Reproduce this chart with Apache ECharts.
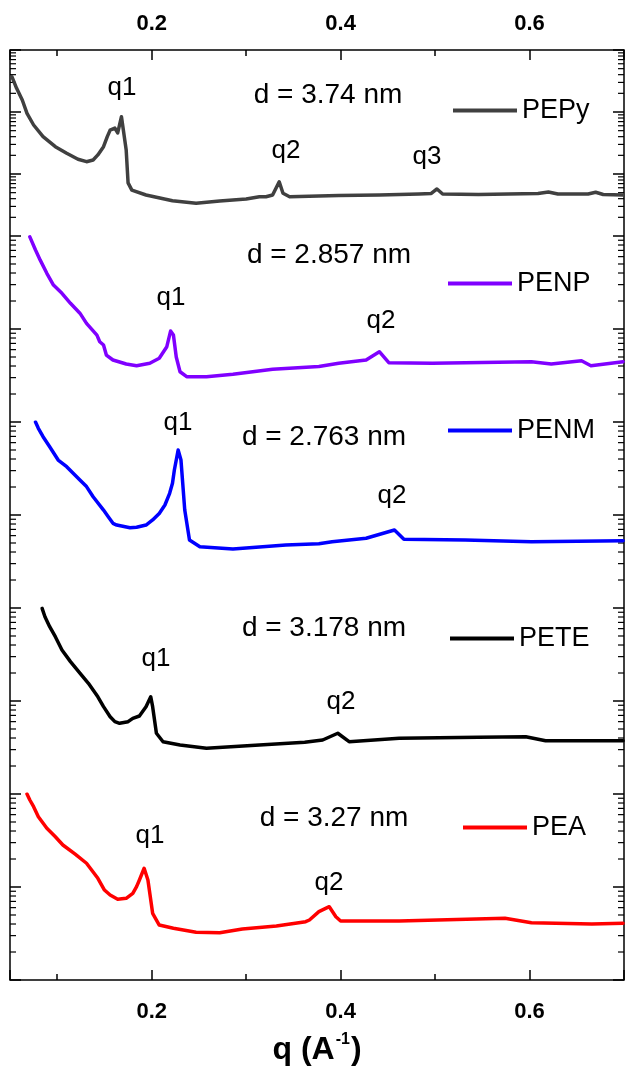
<!DOCTYPE html>
<html>
<head>
<meta charset="utf-8">
<script src="https://cdn.jsdelivr.net/npm/echarts@6/dist/echarts.min.js"></script>
<style>
html,body{margin:0;padding:0;background:#fff}
#chart{width:625px;height:1075px}
</style>
</head>
<body>
<div id="chart"></div>
<script>
var FONT='"Liberation Sans", Arial, sans-serif';
var Q_MIN=0.05, Q_MAX=0.7;

// PEPy
var pepyQ=[0.052,0.057,0.063,0.068,0.075,0.085,0.098,0.110,0.122,0.131,0.138,0.143,0.149,0.153,0.156,0.161,0.164,0.168,0.170,0.173,0.175,0.179,0.194,0.222,0.247,0.272,0.300,0.314,0.321,0.328,0.335,0.339,0.346,0.377,0.398,0.441,0.483,0.496,0.502,0.508,0.546,0.609,0.620,0.630,0.662,0.670,0.678,0.699];
var pepyI=[371,241,156,95,61.7,40,27.6,21.6,17.3,15.8,16.8,20.3,27.6,40,51,55,46,84,80,24.4,7.2,5.5,4.58,3.71,3.37,3.67,3.95,4.30,4.30,4.58,7.5,4.88,4.30,4.42,4.50,4.58,4.76,4.85,5.73,4.76,4.67,4.85,5.12,4.76,4.76,5.07,4.67,4.58];
// PENP
var penpQ=[0.071,0.077,0.082,0.089,0.096,0.105,0.114,0.124,0.131,0.142,0.145,0.149,0.152,0.159,0.173,0.184,0.198,0.208,0.216,0.220,0.223,0.226,0.230,0.237,0.258,0.286,0.328,0.377,0.398,0.427,0.441,0.451,0.497,0.602,0.623,0.655,0.665,0.699];
var penpI=[98,70.7,55,39.7,29.7,24.2,18.9,14.8,11.5,8.6,7.3,6.73,5.25,4.64,4.2,4.03,4.28,4.84,6.45,9.5,8.6,5.0,3.47,3.07,3.07,3.26,3.69,3.95,4.28,4.64,5.7,4.34,4.28,4.45,4.2,4.56,4.03,4.45];
// PENM
var penmQ=[0.077,0.080,0.085,0.092,0.101,0.110,0.124,0.131,0.138,0.149,0.154,0.159,0.163,0.177,0.184,0.194,0.201,0.208,0.214,0.219,0.222,0.224,0.228,0.231,0.235,0.240,0.251,0.286,0.342,0.377,0.391,0.427,0.457,0.467,0.532,0.602,0.699];
var penmI=[100,85.5,69.5,54.3,39,33.1,23.8,20.2,15.7,11.3,9.6,8.14,7.8,7.3,7.38,7.8,8.84,10.4,12.8,17.1,21.9,30.5,50,39,11.3,5.39,4.56,4.31,4.76,4.9,5.16,5.62,6.9,5.48,5.39,5.16,5.29];
// PETE
var peteQ=[0.084,0.087,0.092,0.098,0.105,0.114,0.124,0.133,0.143,0.149,0.156,0.161,0.166,0.175,0.180,0.187,0.194,0.199,0.201,0.205,0.212,0.230,0.258,0.314,0.362,0.381,0.397,0.409,0.462,0.546,0.596,0.617,0.699];
var peteI=[99,80.6,63,49.1,35.4,26.5,19.9,15.5,11.1,8.7,6.78,6.0,5.76,5.99,6.51,6.9,8.69,11.1,8.69,4.5,3.65,3.36,3.1,3.36,3.6,3.81,4.5,3.65,3.97,4.07,4.13,3.74,3.74];
// PEA
var peaQ=[0.068,0.071,0.075,0.080,0.089,0.098,0.106,0.119,0.131,0.143,0.150,0.156,0.164,0.173,0.180,0.184,0.187,0.192,0.196,0.201,0.208,0.223,0.247,0.272,0.296,0.332,0.363,0.367,0.377,0.388,0.395,0.400,0.462,0.574,0.602,0.666,0.699];
var peaI=[100,86.2,73,57,42.8,34.7,28.3,22.6,18,12.4,9.28,8.2,7.38,7.56,8.55,10.1,11.9,15.9,11.9,5.21,3.9,3.6,3.26,3.22,3.54,3.81,4.24,4.42,5.43,6.14,4.79,4.31,4.31,4.61,4.13,4.0,4.07];

var names=['PEPy','PENP','PENM','PETE','PEA'];
var colors=['#404040','#8000ff','#0000ff','#000000','#ff0000'];
var qs=[pepyQ,penpQ,penmQ,peteQ,peaQ];
var vals=[pepyI,penpI,penmI,peteI,peaI];
var yTop=[1000,100,100,100,100];
var xTickLabels=[0.2,0.4,0.6];

// text: label, x, y, size  (layout)
var notes=[
	['q1',122,88,26],['d = 3.74 nm',328,95,28],['q2',286,151,26],['q3',427,157,26],
	['d = 2.857 nm',329,255,28],['q1',171,298,26],['q2',381,321,26],
	['q1',178,423,26],['d = 2.763 nm',324,437,28],['q2',392,496,26],
	['d = 3.178 nm',324,628,28],['q1',156,659,26],['q2',341,702,26],
	['d = 3.27 nm',334,818,28],['q1',150,836,26],['q2',329,883,26]
];
// legend line start x, centre y (layout)
var legendPos=[[453,110],[448,283],[448,430],[450,638],[463,827]];

var LEFT=10, WIDTH=614, TOP=50, PH=186;

function pairs(q,v){
	return q.map(function(x,i){return [x,v[i]];});
}
function minorTickValues(top){
	var out=[];
	for(var base=1;base<top;base*=10){
		for(var k=2;k<=9;k++){out.push([Q_MIN,k*base]);}
	}
	return out;
}
function minorTicks(params,api){
	var cs=params.coordSys;
	var y=api.coord([api.value(0),api.value(1)])[1];
	var st={stroke:'#000',lineWidth:1.2};
	return {type:'group',children:[
		{type:'line',shape:{x1:cs.x,y1:y,x2:cs.x+6,y2:y},style:st},
		{type:'line',shape:{x1:cs.x+cs.width,y1:y,x2:cs.x+cs.width-6,y2:y},style:st}
	]};
}
function tickLabel(v){
	for(var i=0;i<xTickLabels.length;i++){
		if(Math.abs(xTickLabels[i]-v)<1e-6){return xTickLabels[i].toFixed(1);}
	}
	return '';
}

var grid=[{left:LEFT,top:TOP,width:WIDTH,height:PH*5,show:true,borderColor:'#000',borderWidth:1.5,backgroundColor:'transparent',outerBoundsMode:'none'}];
var xAxis=[
	{gridIndex:0,type:'value',position:'bottom',min:Q_MIN,max:Q_MAX,minInterval:0.2,maxInterval:0.2,
		axisLine:{show:false},splitLine:{show:false},
		axisTick:{inside:true,length:10,lineStyle:{color:'#000',width:1.5}},
		axisLabel:{margin:21,fontSize:22,fontWeight:'bold',fontFamily:FONT,color:'#000',formatter:tickLabel},
		name:'{b|q (A}{s|-1}{b|)}',nameLocation:'middle',nameGap:52,
		nameTextStyle:{rich:{
			b:{fontSize:32,fontWeight:'bold',fontFamily:FONT,color:'#000',lineHeight:36},
			s:{fontSize:16,fontWeight:'bold',fontFamily:FONT,color:'#000',verticalAlign:'top',lineHeight:36,padding:[0,1,18,1]}
		}}},
	{gridIndex:0,type:'value',position:'top',min:Q_MIN,max:Q_MAX,minInterval:0.2,maxInterval:0.2,
		axisLine:{show:false},splitLine:{show:false},
		axisTick:{inside:true,length:10,lineStyle:{color:'#000',width:1.5}},
		axisLabel:{margin:15,fontSize:22,fontWeight:'bold',fontFamily:FONT,color:'#000',formatter:tickLabel}}
];
var yAxis=[{gridIndex:0,type:'value',min:0,max:1,show:false}];
var series=[];
var legend=[];

for(var i=0;i<5;i++){
	grid.push({left:LEFT,top:TOP+PH*i,width:WIDTH,height:PH,outerBoundsMode:'none'});
	var edge=(i===0||i===4);
	xAxis.push({gridIndex:i+1,type:'value',min:Q_MIN,max:Q_MAX,minInterval:0.1,maxInterval:0.1,
		show:edge,position:i===0?'top':'bottom',
		axisLine:{show:false},splitLine:{show:false},axisLabel:{show:false},
		axisTick:{show:edge,inside:true,length:6,lineStyle:{color:'#000',width:1.5}}});
	['left','right'].forEach(function(pos){
		yAxis.push({gridIndex:i+1,type:'log',logBase:10,min:1,max:yTop[i],position:pos,
			axisLine:{show:false},splitLine:{show:false},axisLabel:{show:false},
			axisTick:{inside:true,length:11,lineStyle:{color:'#000',width:1.5}}});
	});
	series.push({
		name:names[i],type:'line',xAxisIndex:i+2,yAxisIndex:1+2*i,
		data:pairs(qs[i],vals[i]),showSymbol:false,symbol:'none',
		lineStyle:{color:colors[i],width:3.5,join:'round',cap:'round'},itemStyle:{color:colors[i]},
		animation:false
	});
	series.push({
		type:'custom',xAxisIndex:i+2,yAxisIndex:1+2*i,silent:true,
		data:minorTickValues(yTop[i]),renderItem:minorTicks,animation:false
	});
	legend.push({
		data:[names[i]],left:legendPos[i][0],top:legendPos[i][1]-13,padding:0,
		icon:'rect',itemWidth:64,itemHeight:4,itemGap:0,selectedMode:false,
		textStyle:{fontSize:27,fontFamily:FONT,color:'#000'}
	});
}

var graphic=notes.map(function(n){
	return {type:'text',x:n[1],y:n[2],silent:true,
		style:{text:n[0],fontSize:n[3],fontFamily:FONT,fill:'#000',align:'center',verticalAlign:'middle'}};
});

var chart=echarts.init(document.getElementById('chart'),null,{renderer:'canvas'});
chart.setOption({
	animation:false,
	backgroundColor:'#fff',
	grid:grid,xAxis:xAxis,yAxis:yAxis,series:series,legend:legend,graphic:graphic
});
</script>
</body>
</html>
